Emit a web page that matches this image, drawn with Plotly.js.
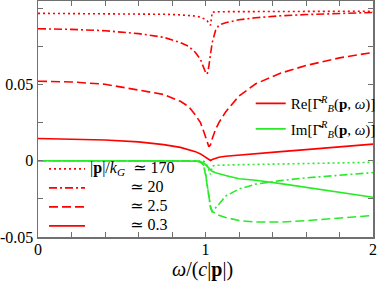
<!DOCTYPE html>
<html>
<head>
<meta charset="utf-8">
<script src="https://cdn.plot.ly/plotly-3.0.1.min.js"></script>
<style>html,body{margin:0;padding:0;background:#fff;}#chart{width:382px;height:283px;}</style>
</head>
<body>
<div id="chart"></div>
<script>
// ω/(c|p|) sample points (denser near the resonance at 1)
var omega = [0, 0.2, 0.4, 0.6, 0.75, 0.85, 0.9, 0.94, 0.97, 0.99, 1.0, 1.01, 1.02, 1.03, 1.04, 1.06, 1.08, 1.12, 1.2, 1.3, 1.45, 1.6, 1.8, 2.0];

// Re[Γ] for |p|/k_G ≃ 170, 20, 2.5, 0.3
var re170 = [0.0967, 0.0966, 0.0965, 0.0963, 0.0961, 0.0957, 0.0954, 0.0949, 0.0942, 0.0934, 0.0927, 0.0918, 0.0903, 0.0888, 0.0975, 0.0977, 0.0977, 0.0978, 0.0978, 0.0979, 0.0979, 0.098, 0.098, 0.0981];
var re20  = [0.0866, 0.0862, 0.0853, 0.0834, 0.081, 0.0775, 0.075, 0.071, 0.0665, 0.061, 0.058, 0.0568, 0.062, 0.07, 0.0775, 0.0855, 0.089, 0.0905, 0.0925, 0.0938, 0.0951, 0.0959, 0.0966, 0.0973];
var re2_5 = [0.0522, 0.0517, 0.0502, 0.0463, 0.0435, 0.039, 0.0355, 0.030, 0.025, 0.019, 0.0155, 0.0115, 0.0092, 0.0105, 0.0145, 0.0205, 0.025, 0.032, 0.0425, 0.0505, 0.0575, 0.0625, 0.0675, 0.0711];
var re0_3 = [0.0146, 0.0143, 0.0136, 0.0124, 0.0106, 0.0088, 0.0075, 0.006, 0.0045, 0.003, 0.0022, 0.0012, 0.0004, 0.0002, 0.0008, 0.0017, 0.0023, 0.003, 0.0038, 0.0046, 0.006, 0.0073, 0.009, 0.0109];

// Im[Γ] for |p|/k_G ≃ 170, 20, 2.5, 0.3
var im170 = [0, 0, 0, 0, 0, 0, 0, 0, 0, -0.0003, -0.001, -0.003, -0.006, -0.009, -0.0035, -0.003, -0.0029, -0.0028, -0.0026, -0.0024, -0.002, -0.0017, -0.0013, -0.001];
var im20  = [0, 0, 0, 0, 0, 0, 0, 0, -0.0005, -0.003, -0.008, -0.016, -0.025, -0.031, -0.0333, -0.031, -0.0285, -0.0232, -0.0185, -0.0153, -0.013, -0.0112, -0.0095, -0.0078];
var im2_5 = [0, 0, 0, 0, 0, 0, 0, 0, -0.0008, -0.004, -0.009, -0.016, -0.024, -0.030, -0.0333, -0.0348, -0.0358, -0.0372, -0.0392, -0.0402, -0.0402, -0.0393, -0.0378, -0.0359];
var im0_3 = [0, 0, 0, 0, 0, 0, 0, -0.0002, -0.0007, -0.0015, -0.0025, -0.0035, -0.0048, -0.006, -0.0069, -0.0078, -0.0085, -0.0096, -0.0118, -0.0128, -0.015, -0.0175, -0.0205, -0.0239];

// tick values / labels
var xTickVals = [0, 0.2, 0.4, 0.6, 0.8, 1, 1.2, 1.4, 1.6, 1.8, 2];
var xTickText = ["0", "", "", "", "", "1", "", "", "", "", "2"];
var yTickVals = [-0.05, -0.025, 0, 0.025, 0.05, 0.075, 0.1];
var yTickText = ["-0.05", "", "0", "", "0.05", "", "0.1"];

// texts
var NB = "\u00a0";
var xTitle = "<i>ω</i>/(<i>c</i>|<b>p</b>|)";
var kLabel = "|<b>p</b>|/<i>k</i><sub><i>G</i></sub>" + NB + NB;
var pad = NB.repeat(10);
var legendNames = [
  '<span style="font-size:16px">' + kLabel + '≃ 170</span>',
  '<span style="font-size:16px">' + pad + '≃ 20</span>',
  '<span style="font-size:16px">' + pad + '≃ 2.5</span>',
  '<span style="font-size:16px">' + pad + '≃ 0.3</span>'
];
var reLabel = "Re[Γ̄<sup><i>R</i></sup><sub><i>B</i></sub>(<b>p</b>, <i>ω</i>)]";
var imLabel = "Im[Γ̄<sup><i>R</i></sup><sub><i>B</i></sub>(<b>p</b>, <i>ω</i>)]";

var RED = "rgb(255,0,0)";
var GREEN = "rgb(40,235,40)";
var LW = 1.6;
var dashes = ["2px,3px", "8px,3px,2px,3px", "9px,4px", "solid"];

var reSeries = [re170, re20, re2_5, re0_3];
var imSeries = [im170, im20, im2_5, im0_3];

var traces = [];
reSeries.forEach(function (ys, i) {
  traces.push({x: omega, y: ys, mode: "lines", name: legendNames[i], legend: "legend",
    line: {color: RED, width: LW, dash: dashes[i]}, hoverinfo: "skip"});
});
imSeries.forEach(function (ys, i) {
  traces.push({x: omega, y: ys, mode: "lines", showlegend: false,
    line: {color: GREEN, width: LW, dash: dashes[i]}, hoverinfo: "skip"});
});
traces.push({x: [null], y: [null], mode: "lines", name: reLabel, legend: "legend2", legendgroup: "re",
  line: {color: RED, width: LW}});
traces.push({x: [null], y: [null], mode: "lines", name: imLabel, legend: "legend2", legendgroup: "im",
  line: {color: GREEN, width: LW}});

var FONT = "'Liberation Serif', 'DejaVu Serif', serif";
var AX = "#707070";

var layout = {
  width: 382, height: 283,
  margin: {l: 38, r: 7, t: 1, b: 46},
  paper_bgcolor: "#fff", plot_bgcolor: "#fff",
  font: {family: FONT, size: 16, color: "#000"},
  showlegend: true,
  xaxis: {
    range: [0, 2], tickmode: "array", tickvals: xTickVals, ticktext: xTickText,
    ticks: "inside", ticklen: 5, tickwidth: 1, tickcolor: AX,
    showline: true, linecolor: AX, linewidth: 1.5, mirror: "allticks",
    showgrid: false, zeroline: false, ticklabelstandoff: -3,
    tickfont: {family: FONT, size: 16, color: "#000"}
  },
  yaxis: {
    range: [-0.05, 0.1048], tickmode: "array", tickvals: yTickVals, ticktext: yTickText,
    ticks: "inside", ticklen: 5, tickwidth: 1, tickcolor: AX,
    showline: true, linecolor: AX, linewidth: 1.5, mirror: "allticks",
    showgrid: false, zeroline: false,
    tickfont: {family: FONT, size: 16, color: "#000"}
  },
  annotations: [{
    text: xTitle, xref: "paper", yref: "paper", x: 0.49, y: -0.137,
    xanchor: "center", yanchor: "middle", showarrow: false,
    font: {family: FONT, size: 20, color: "#000"}
  }],
  legend: {
    x: 0.018, y: 0.35, xanchor: "left", yanchor: "top",
    bgcolor: "rgba(0,0,0,0)", borderwidth: 0, itemwidth: 36,
    font: {family: FONT, size: 10, color: "#000"}
  },
  legend2: {
    x: 0.635, y: 0.635, xanchor: "left", yanchor: "top",
    bgcolor: "rgba(0,0,0,0)", borderwidth: 0, itemwidth: 30,
    traceorder: "grouped", tracegroupgap: 3,
    font: {family: FONT, size: 15, color: "#000"}
  }
};

Plotly.newPlot("chart", traces, layout, {staticPlot: true, displayModeBar: false});
</script>
</body>
</html>
